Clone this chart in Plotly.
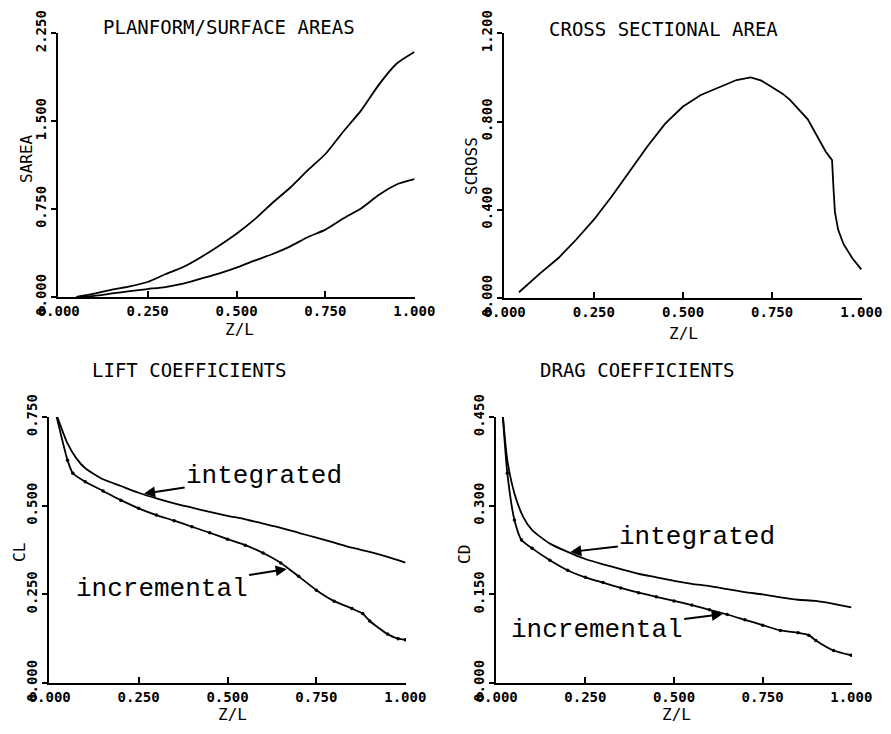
import numpy as np
import plotly.graph_objects as go

# ---------------- data ----------------
area_zl = [0.05, 0.10, 0.15, 0.20, 0.25, 0.30, 0.35, 0.40, 0.45, 0.50,
           0.55, 0.60, 0.65, 0.70, 0.75, 0.80, 0.85, 0.90, 0.95, 1.00]
sarea_surface = [0.0, 0.028, 0.063, 0.091, 0.128, 0.194, 0.256, 0.34, 0.436, 0.54,
                 0.66, 0.80, 0.93, 1.08, 1.22, 1.41, 1.59, 1.81, 1.99, 2.09]
sarea_planform = [0.0, 0.01, 0.03, 0.05, 0.068, 0.085, 0.114, 0.157, 0.2, 0.25,
                  0.31, 0.365, 0.43, 0.51, 0.575, 0.67, 0.755, 0.87, 0.96, 1.005]

cross_zl = [0.04, 0.10, 0.15, 0.20, 0.25, 0.30, 0.35, 0.40, 0.45, 0.50, 0.55, 0.60,
            0.65, 0.69, 0.72, 0.75, 0.78, 0.80, 0.85, 0.90, 0.918, 0.922, 0.926, 0.935,
            0.95, 0.975, 1.00]
scross = [0.026, 0.113, 0.18, 0.264, 0.355, 0.46, 0.573, 0.687, 0.79, 0.868, 0.92, 0.955,
          0.988, 1.0, 0.985, 0.955, 0.925, 0.898, 0.81, 0.664, 0.625, 0.50, 0.39, 0.31,
          0.245, 0.18, 0.13]

cl_int_zl = [0.016, 0.05, 0.075, 0.10, 0.15, 0.20, 0.25, 0.30, 0.35, 0.40, 0.45, 0.50,
             0.55, 0.60, 0.65, 0.70, 0.75, 0.80, 0.85, 0.90, 0.95, 1.00]
cl_integrated = [0.766, 0.676, 0.634, 0.606, 0.575, 0.556, 0.537, 0.521, 0.507, 0.495, 0.483, 0.472,
                 0.462, 0.450, 0.438, 0.424, 0.410, 0.396, 0.382, 0.370, 0.356, 0.340]
cl_inc_zl = [0.016, 0.05, 0.065, 0.10, 0.15, 0.20, 0.25, 0.30, 0.35, 0.40, 0.45, 0.50,
             0.55, 0.60, 0.65, 0.70, 0.75, 0.80, 0.85, 0.88, 0.90, 0.95, 0.98, 1.00]
cl_incremental = [0.766, 0.629, 0.592, 0.568, 0.542, 0.516, 0.493, 0.474, 0.458, 0.441, 0.424, 0.406,
                  0.389, 0.367, 0.339, 0.301, 0.262, 0.231, 0.210, 0.196, 0.175, 0.138, 0.125, 0.122]

cd_int_zl = [0.016, 0.03, 0.05, 0.075, 0.10, 0.15, 0.20, 0.25, 0.30, 0.35, 0.40, 0.45,
             0.50, 0.55, 0.60, 0.65, 0.70, 0.75, 0.80, 0.85, 0.90, 0.95, 1.00]
cd_integrated = [0.462, 0.377, 0.321, 0.281, 0.259, 0.236, 0.222, 0.210, 0.201, 0.193, 0.185, 0.179,
                 0.173, 0.168, 0.164, 0.159, 0.154, 0.150, 0.145, 0.141, 0.139, 0.134, 0.128]
cd_inc_zl = [0.016, 0.03, 0.05, 0.07, 0.10, 0.15, 0.20, 0.25, 0.30, 0.35, 0.40, 0.45,
             0.50, 0.55, 0.60, 0.65, 0.70, 0.75, 0.80, 0.85, 0.88, 0.90, 0.95, 1.00]
cd_incremental = [0.462, 0.355, 0.276, 0.242, 0.228, 0.208, 0.191, 0.179, 0.170, 0.161, 0.153, 0.146,
                  0.139, 0.132, 0.124, 0.116, 0.107, 0.098, 0.089, 0.085, 0.081, 0.072, 0.055, 0.047]

x_ticks = [0.0, 0.25, 0.5, 0.75, 1.0]
x_ticktext = ["0.000", "0.250", "0.500", "0.750", "1.000"]
sarea_ticks = [0.0, 0.75, 1.5, 2.25]
sarea_ticktext = ["0.000", "0.750", "1.500", "2.250"]
scross_ticks = [0.0, 0.4, 0.8, 1.2]
scross_ticktext = ["0.000", "0.400", "0.800", "1.200"]
cl_ticks = [0.0, 0.25, 0.5, 0.75]
cl_ticktext = ["0.000", "0.250", "0.500", "0.750"]
cd_ticks = [0.0, 0.15, 0.3, 0.45]
cd_ticktext = ["0.000", "0.150", "0.300", "0.450"]

# ---------------- figure ----------------
# the page body has an 8 px margin, so the figure is 16 px smaller than the window
OFF = 8
W, H = 891 - 2 * OFF, 734 - 2 * OFF


def px(x):
    return (x - OFF) / W


def py(y):
    return 1 - (y - OFF) / H


LINE = dict(color="black", width=1.8, shape="spline", smoothing=0.6)
LINE_SHARP = dict(color="black", width=1.8)
fig = go.Figure()
fig.add_trace(go.Scatter(x=area_zl, y=sarea_surface, mode="lines", line=LINE, xaxis="x", yaxis="y"))
fig.add_trace(go.Scatter(x=area_zl, y=sarea_planform, mode="lines", line=LINE, xaxis="x", yaxis="y"))
fig.add_trace(go.Scatter(x=cross_zl, y=scross, mode="lines", line=LINE_SHARP, xaxis="x2", yaxis="y2"))
fig.add_trace(go.Scatter(x=cl_int_zl, y=cl_integrated, mode="lines", line=LINE, xaxis="x3", yaxis="y3"))
fig.add_trace(go.Scatter(x=cl_inc_zl, y=cl_incremental, mode="lines+markers", line=LINE,
                         marker=dict(color="black", size=3.5), xaxis="x3", yaxis="y3"))
fig.add_trace(go.Scatter(x=cd_int_zl, y=cd_integrated, mode="lines", line=LINE, xaxis="x4", yaxis="y4"))
fig.add_trace(go.Scatter(x=cd_inc_zl, y=cd_incremental, mode="lines+markers", line=LINE,
                         marker=dict(color="black", size=3.5), xaxis="x4", yaxis="y4"))

TICKFONT = dict(family="DejaVu Sans Mono", size=14, color="black", weight="bold")


def xaxis(domain, anchor):
    return dict(domain=domain, anchor=anchor, range=[-0.002, 1.002], showline=True, linecolor="black",
                linewidth=1.8, showgrid=False, zeroline=False, ticks="inside", ticklen=6,
                tickwidth=1.5, tickcolor="black", tickvals=x_ticks, ticktext=x_ticktext,
                tickfont=TICKFONT, fixedrange=True, automargin=False)


def yaxis(domain, anchor, top, vals, text):
    return dict(domain=domain, anchor=anchor, range=[0, top * 1.001], showline=True, linecolor="black",
                linewidth=1.8, showgrid=False, zeroline=False, ticks="outside", ticklen=5,
                tickwidth=1.5, tickcolor="black", tickvals=vals, ticktext=text,
                tickangle=-90, tickfont=TICKFONT, fixedrange=True, automargin=False)


layout = dict(
    width=W, height=H, margin=dict(l=0, r=0, t=0, b=0, pad=0, autoexpand=False),
    plot_bgcolor="white", paper_bgcolor="white", showlegend=False,
    xaxis=xaxis([px(58), px(415)], "y"),
    yaxis=yaxis([py(297), py(33)], "x", 2.25, sarea_ticks, sarea_ticktext),
    xaxis2=xaxis([px(504), px(862)], "y2"),
    yaxis2=yaxis([py(298), py(33)], "x2", 1.2, scross_ticks, scross_ticktext),
    xaxis3=xaxis([px(49), px(406)], "y3"),
    yaxis3=yaxis([py(683), py(417)], "x3", 0.75, cl_ticks, cl_ticktext),
    xaxis4=xaxis([px(496), px(852)], "y4"),
    yaxis4=yaxis([py(683), py(417)], "x4", 0.45, cd_ticks, cd_ticktext),
)
fig.update_layout(**layout)

TITLEFONT = dict(family="DejaVu Sans Mono", size=19, color="black")
LABELFONT = dict(family="DejaVu Sans Mono", size=16, color="black")
NOTEFONT = dict(family="Liberation Mono", size=26, color="black")

annotations = []
for text, x, y in [("PLANFORM/SURFACE AREAS", 229, 27), ("CROSS SECTIONAL AREA", 663, 29),
                   ("LIFT COEFFICIENTS", 189, 370), ("DRAG COEFFICIENTS", 637, 370)]:
    annotations.append(dict(text=text, x=px(x), y=py(y), xref="paper", yref="paper",
                            showarrow=False, font=TITLEFONT, xanchor="center", yanchor="middle"))
for x, y in [(240, 329), (683, 333), (232, 714), (676, 714)]:
    annotations.append(dict(text="Z/L", x=px(x), y=py(y), xref="paper", yref="paper",
                            showarrow=False, font=LABELFONT, xanchor="center", yanchor="middle"))
for text, x, y in [("SAREA", 27, 159), ("SCROSS", 471, 166), ("CL", 19, 553), ("CD", 464, 555)]:
    annotations.append(dict(text=text, x=px(x), y=py(y), xref="paper", yref="paper", textangle=-90,
                            showarrow=False, font=LABELFONT, xanchor="center", yanchor="middle"))


def note(text, xr, yr, xs, ys, tip_x, ax, ay):
    tip_y = float(np.interp(tip_x, xs, ys))
    return dict(text=text, x=tip_x, y=tip_y, xref=xr, yref=yr, ax=ax, ay=ay, axref="pixel",
                ayref="pixel", showarrow=True, arrowhead=2, arrowsize=1.1, arrowwidth=2,
                arrowcolor="black", font=NOTEFONT, standoff=2)


annotations.append(note("integrated", "x3", "y3", cl_int_zl, cl_integrated, 0.26, 122, -18))
annotations.append(note("incremental", "x3", "y3", cl_inc_zl, cl_incremental, 0.672, -127, 20))
annotations.append(note("integrated", "x4", "y4", cd_int_zl, cd_integrated, 0.202, 129, -15))
annotations.append(note("incremental", "x4", "y4", cd_inc_zl, cd_incremental, 0.643, -128, 16))

fig.update_layout(annotations=annotations)
fig.write_html("out.html")
